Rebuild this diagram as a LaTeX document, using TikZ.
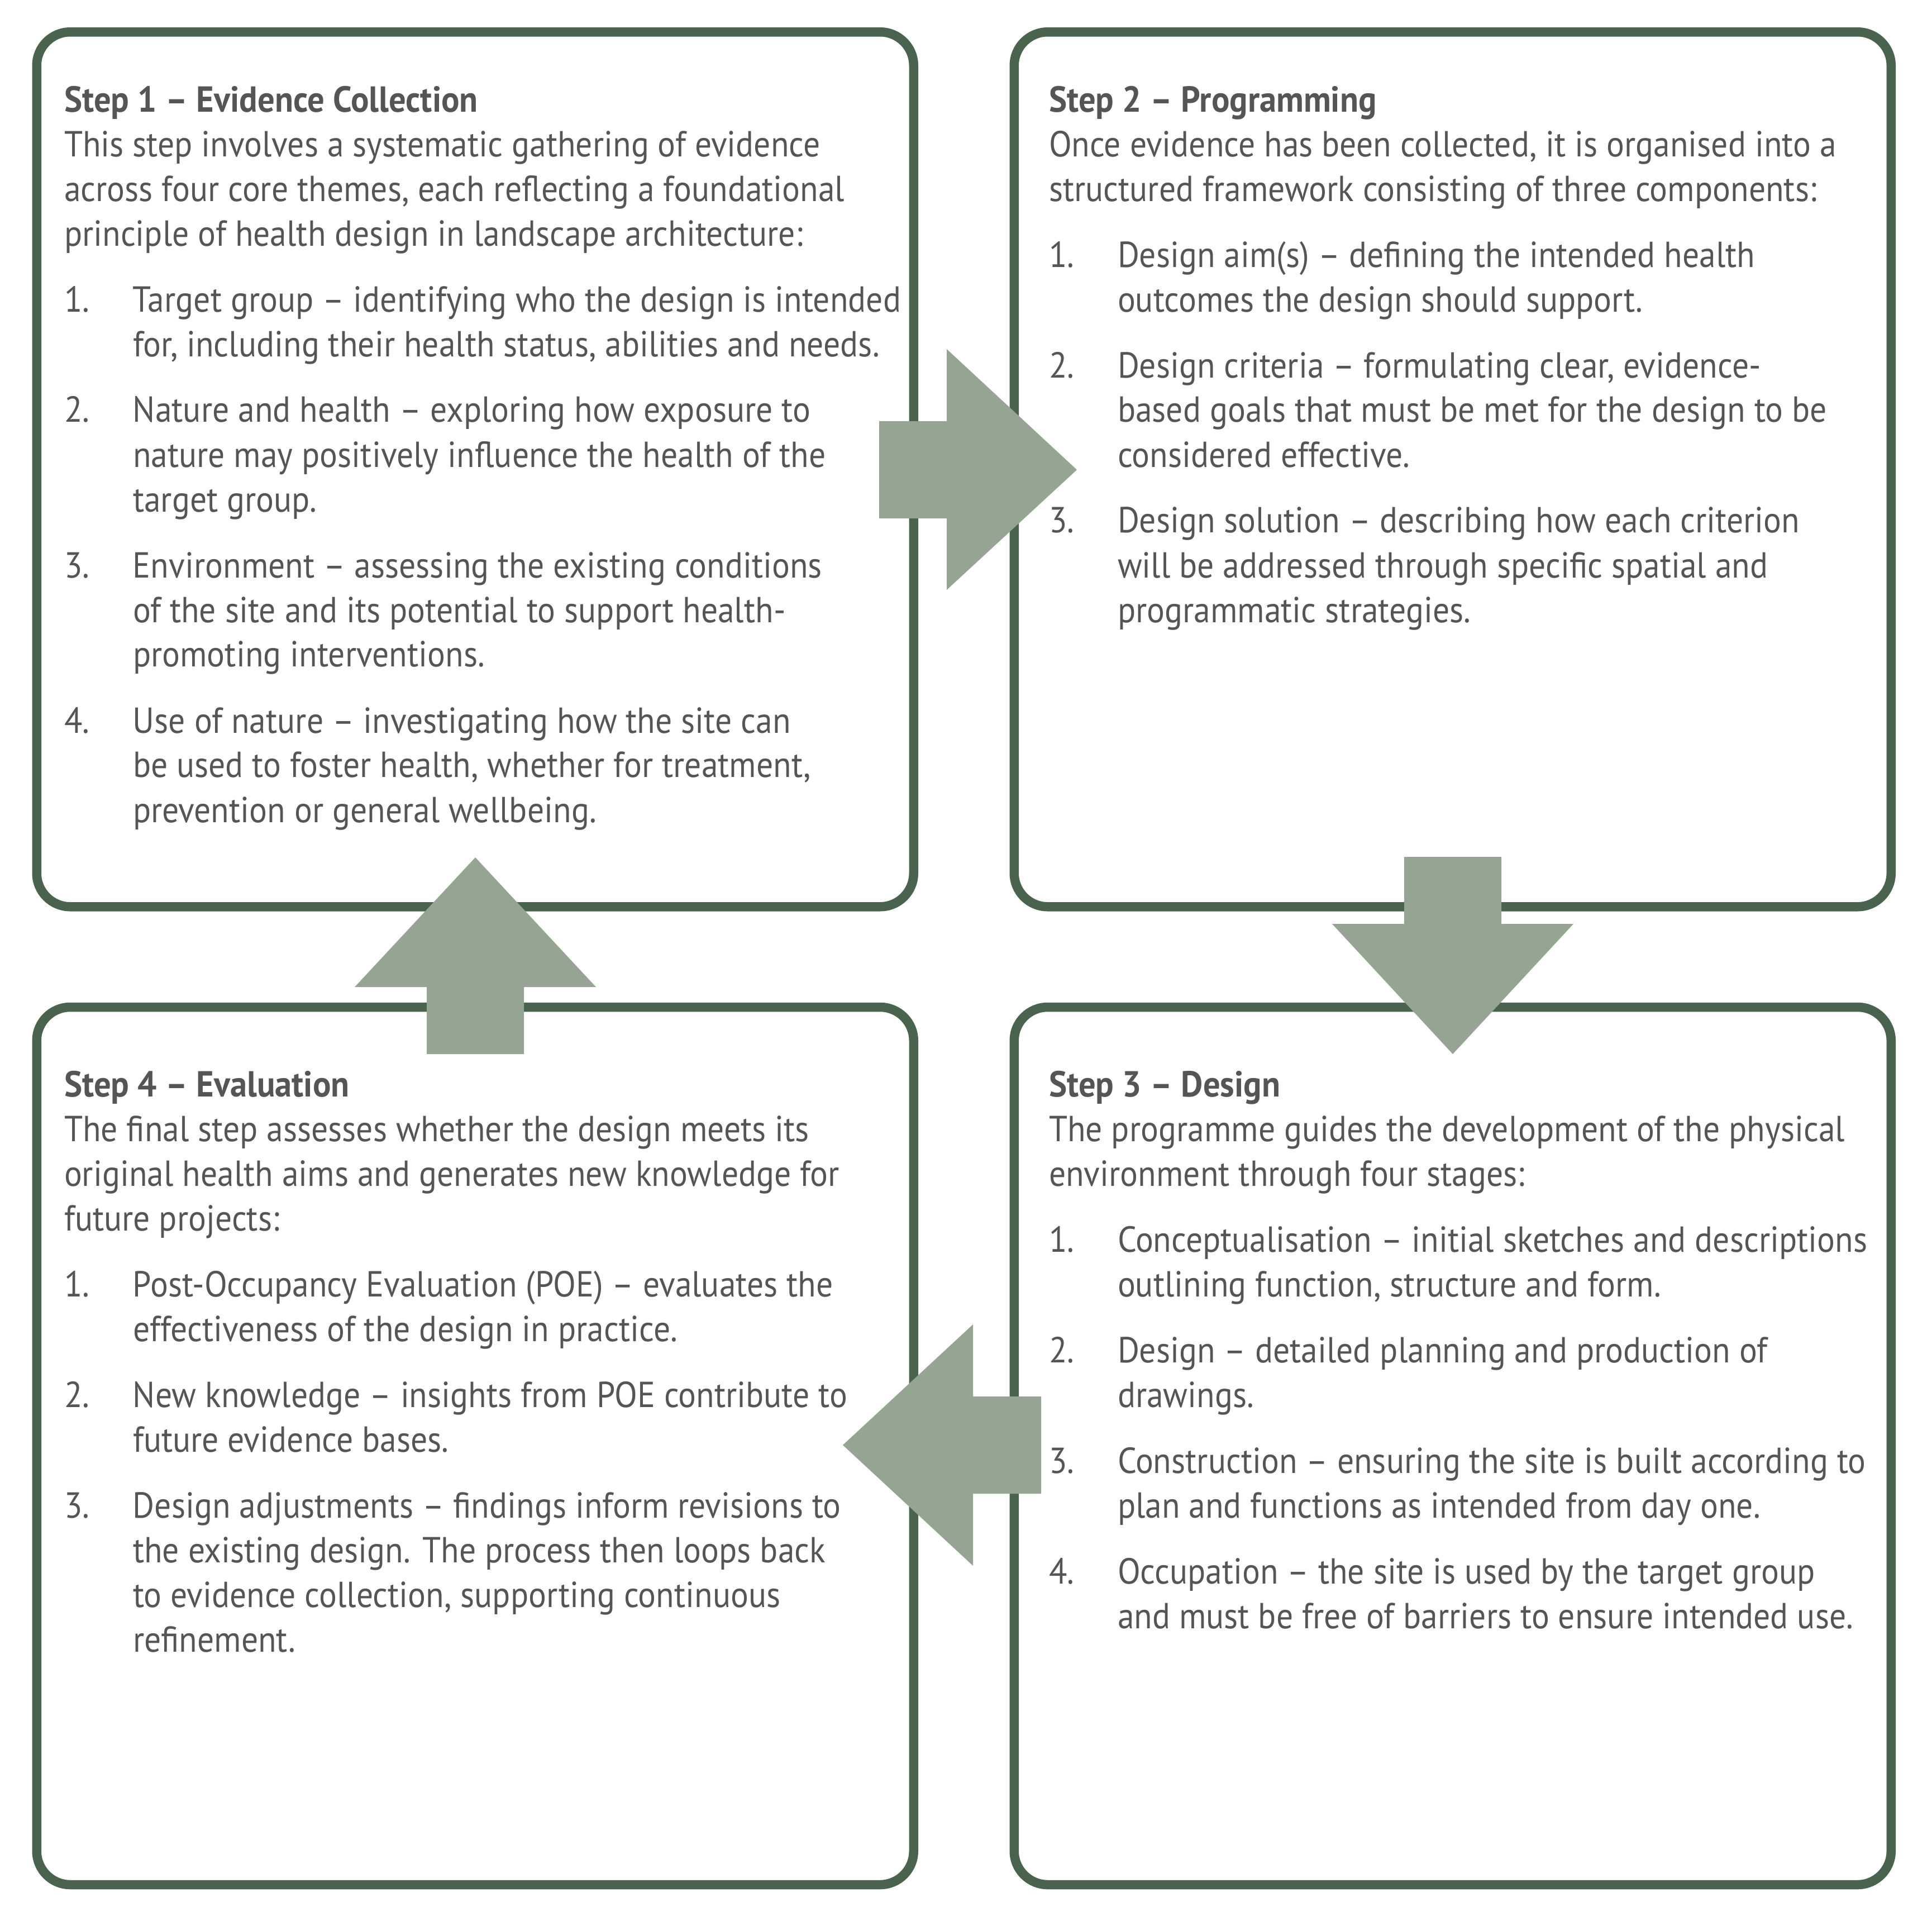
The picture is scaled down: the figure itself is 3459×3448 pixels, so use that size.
\documentclass[tikz,border=0pt]{standalone}
\usepackage{fontspec}
\setmainfont{PT Sans}[FakeStretch=0.92,BoldFeatures={FakeStretch=0.935}]
\definecolor{boxgreen}{HTML}{4A634F}
\definecolor{arrowgreen}{HTML}{96A593}
\definecolor{txtgray}{HTML}{555555}
\newcommand{\itm}[1]{\makebox[30.75pt][l]{#1}}
\newcommand{\cnt}{\hspace*{30.75pt}}
\newcommand{\boxtext}[1]{\parbox[t]{440pt}{\fontsize{16.2pt}{20pt}\selectfont\raggedright #1}}
\begin{document}
\begin{tikzpicture}[x=0.25pt,y=-0.25pt,
  stepbox/.style={draw=boxgreen, line width=4.125pt, rounded corners=15pt, fill=white, minimum width=392.5pt, inner sep=0pt},
  blockarrow/.style={fill=arrowgreen, draw=none},
  body/.style={anchor=base west, inner sep=0pt, outer sep=0pt, text=txtgray}]

\useasboundingbox[fill=white] (0,0) rectangle (3459,3448);

% boxes
\node[stepbox, minimum height=391.5pt] (s1) at (850.75,840.25) {};
\node[stepbox, minimum height=391.5pt] (s2) at (2600.75,840.25) {};
\node[stepbox, minimum height=392.75pt] (s3) at (2600.75,2588.5) {};
\node[stepbox, minimum height=392.75pt] (s4) at (850.75,2588.5) {};

% block arrows
\fill[blockarrow] (1574,754) -- (1695,754) -- (1695,625) -- (1928,841) -- (1695,1056) -- (1695,928) -- (1574,928) -- cycle;
\fill[blockarrow] (2514,1534) -- (2688,1534) -- (2688,1654) -- (2817,1654) -- (2601,1887) -- (2385,1654) -- (2514,1654) -- cycle;
\fill[blockarrow] (1864,2500) -- (1742,2500) -- (1742,2371) -- (1509,2587) -- (1742,2803) -- (1742,2674) -- (1864,2674) -- cycle;
\fill[blockarrow] (764,1887) -- (938,1887) -- (938,1767) -- (1067,1767) -- (851,1535) -- (635,1767) -- (764,1767) -- cycle;

% texts
\node[body] (t1) at (115,200) {\boxtext{%
\textbf{Step 1 – Evidence Collection}\\
This step involves a systematic gathering of evidence\\
across four core themes, each reflecting a foundational\\
principle of health design in landscape architecture:\\[9.5pt]
\itm{1.}Target group – identifying who the design is intended\\
\cnt for, including their health status, abilities and needs.\\[9.5pt]
\itm{2.}Nature and health – exploring how exposure to\\
\cnt nature may positively influence the health of the\\
\cnt target group.\\[9.5pt]
\itm{3.}Environment – assessing the existing conditions\\
\cnt of the site and its potential to support health-\\
\cnt promoting interventions.\\[9.5pt]
\itm{4.}Use of nature – investigating how the site can\\
\cnt be used to foster health, whether for treatment,\\
\cnt prevention or general wellbeing.}};

\node[body] (t2) at (1878,200) {\boxtext{%
\textbf{Step 2 – Programming}\\
Once evidence has been collected, it is organised into a\\
structured framework consisting of three components:\\[9.5pt]
\itm{1.}Design aim(s) – defining the intended health\\
\cnt outcomes the design should support.\\[9.5pt]
\itm{2.}Design criteria – formulating clear, evidence-\\
\cnt based goals that must be met for the design to be\\
\cnt considered effective.\\[9.5pt]
\itm{3.}Design solution – describing how each criterion\\
\cnt will be addressed through specific spatial and\\
\cnt programmatic strategies.}};

\node[body] (t3) at (1878,1963) {\boxtext{%
\textbf{Step 3 – Design}\\
The programme guides the development of the physical\\
environment through four stages:\\[9.5pt]
\itm{1.}Conceptualisation – initial sketches and descriptions\\
\cnt outlining function, structure and form.\\[9.5pt]
\itm{2.}Design – detailed planning and production of\\
\cnt drawings.\\[9.5pt]
\itm{3.}Construction – ensuring the site is built according to\\
\cnt plan and functions as intended from day one.\\[9.5pt]
\itm{4.}Occupation – the site is used by the target group\\
\cnt and must be free of barriers to ensure intended use.}};

\node[body] (t4) at (115,1963) {\boxtext{%
\textbf{Step 4 – Evaluation}\\
The final step assesses whether the design meets its\\
original health aims and generates new knowledge for\\
future projects:\\[9.5pt]
\itm{1.}Post-Occupancy Evaluation (POE) – evaluates the\\
\cnt effectiveness of the design in practice.\\[9.5pt]
\itm{2.}New knowledge – insights from POE contribute to\\
\cnt future evidence bases.\\[9.5pt]
\itm{3.}Design adjustments – findings inform revisions to\\
\cnt the existing design. The process then loops back\\
\cnt to evidence collection, supporting continuous\\
\cnt refinement.}};

\end{tikzpicture}
\end{document}
